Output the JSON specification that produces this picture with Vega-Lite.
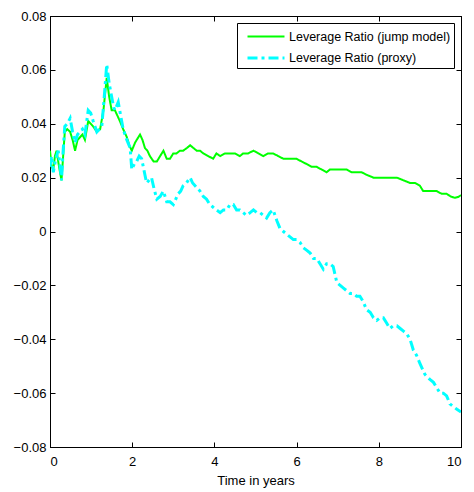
{
  "$schema": "https://vega.github.io/schema/vega-lite/v6.json",
  "width": 411,
  "height": 431,
  "autosize": "none",
  "padding": {"left": 50, "top": 16, "right": 13, "bottom": 45},
  "background": "white",
  "config": {
    "font": "Liberation Sans",
    "view": {"stroke": "black", "strokeWidth": 1},
    "axis": {
      "grid": false,
      "domainColor": "black",
      "tickColor": "black",
      "tickSize": -5,
      "labelColor": "black",
      "labelFont": "Liberation Sans",
      "labelFontSize": 13,
      "titleFont": "Liberation Sans",
      "titleFontSize": 13,
      "titleFontWeight": "normal",
      "titleColor": "black"
    },
    "legend": {
      "labelFont": "Liberation Sans",
      "labelFontSize": 12.5,
      "labelColor": "black",
      "labelLimit": 0
    }
  },
  "data": {
    "values": [
      {"t": 0, "series": "Leverage Ratio (jump model)", "ratio": 0.030},
      {"t": 0.04, "series": "Leverage Ratio (jump model)", "ratio": 0.024},
      {"t": 0.08, "series": "Leverage Ratio (jump model)", "ratio": 0.023},
      {"t": 0.12, "series": "Leverage Ratio (jump model)", "ratio": 0.028},
      {"t": 0.16, "series": "Leverage Ratio (jump model)", "ratio": 0.030},
      {"t": 0.22, "series": "Leverage Ratio (jump model)", "ratio": 0.024},
      {"t": 0.28, "series": "Leverage Ratio (jump model)", "ratio": 0.019},
      {"t": 0.32, "series": "Leverage Ratio (jump model)", "ratio": 0.028},
      {"t": 0.36, "series": "Leverage Ratio (jump model)", "ratio": 0.037},
      {"t": 0.42, "series": "Leverage Ratio (jump model)", "ratio": 0.038},
      {"t": 0.49, "series": "Leverage Ratio (jump model)", "ratio": 0.037},
      {"t": 0.55, "series": "Leverage Ratio (jump model)", "ratio": 0.034},
      {"t": 0.61, "series": "Leverage Ratio (jump model)", "ratio": 0.030},
      {"t": 0.67, "series": "Leverage Ratio (jump model)", "ratio": 0.034},
      {"t": 0.73, "series": "Leverage Ratio (jump model)", "ratio": 0.035},
      {"t": 0.79, "series": "Leverage Ratio (jump model)", "ratio": 0.036},
      {"t": 0.85, "series": "Leverage Ratio (jump model)", "ratio": 0.034},
      {"t": 0.93, "series": "Leverage Ratio (jump model)", "ratio": 0.041},
      {"t": 0.99, "series": "Leverage Ratio (jump model)", "ratio": 0.040},
      {"t": 1.05, "series": "Leverage Ratio (jump model)", "ratio": 0.039},
      {"t": 1.14, "series": "Leverage Ratio (jump model)", "ratio": 0.037},
      {"t": 1.22, "series": "Leverage Ratio (jump model)", "ratio": 0.038},
      {"t": 1.30, "series": "Leverage Ratio (jump model)", "ratio": 0.045},
      {"t": 1.38, "series": "Leverage Ratio (jump model)", "ratio": 0.057},
      {"t": 1.44, "series": "Leverage Ratio (jump model)", "ratio": 0.050},
      {"t": 1.50, "series": "Leverage Ratio (jump model)", "ratio": 0.045},
      {"t": 1.58, "series": "Leverage Ratio (jump model)", "ratio": 0.045},
      {"t": 1.64, "series": "Leverage Ratio (jump model)", "ratio": 0.043},
      {"t": 1.70, "series": "Leverage Ratio (jump model)", "ratio": 0.041},
      {"t": 1.78, "series": "Leverage Ratio (jump model)", "ratio": 0.038},
      {"t": 1.87, "series": "Leverage Ratio (jump model)", "ratio": 0.035},
      {"t": 1.93, "series": "Leverage Ratio (jump model)", "ratio": 0.032},
      {"t": 1.99, "series": "Leverage Ratio (jump model)", "ratio": 0.030},
      {"t": 2.07, "series": "Leverage Ratio (jump model)", "ratio": 0.033},
      {"t": 2.19, "series": "Leverage Ratio (jump model)", "ratio": 0.036},
      {"t": 2.25, "series": "Leverage Ratio (jump model)", "ratio": 0.034},
      {"t": 2.31, "series": "Leverage Ratio (jump model)", "ratio": 0.031},
      {"t": 2.37, "series": "Leverage Ratio (jump model)", "ratio": 0.030},
      {"t": 2.43, "series": "Leverage Ratio (jump model)", "ratio": 0.028},
      {"t": 2.52, "series": "Leverage Ratio (jump model)", "ratio": 0.026},
      {"t": 2.60, "series": "Leverage Ratio (jump model)", "ratio": 0.026},
      {"t": 2.68, "series": "Leverage Ratio (jump model)", "ratio": 0.028},
      {"t": 2.76, "series": "Leverage Ratio (jump model)", "ratio": 0.030},
      {"t": 2.84, "series": "Leverage Ratio (jump model)", "ratio": 0.027},
      {"t": 2.92, "series": "Leverage Ratio (jump model)", "ratio": 0.027},
      {"t": 3.00, "series": "Leverage Ratio (jump model)", "ratio": 0.029},
      {"t": 3.08, "series": "Leverage Ratio (jump model)", "ratio": 0.029},
      {"t": 3.16, "series": "Leverage Ratio (jump model)", "ratio": 0.030},
      {"t": 3.24, "series": "Leverage Ratio (jump model)", "ratio": 0.030},
      {"t": 3.33, "series": "Leverage Ratio (jump model)", "ratio": 0.031},
      {"t": 3.41, "series": "Leverage Ratio (jump model)", "ratio": 0.032},
      {"t": 3.49, "series": "Leverage Ratio (jump model)", "ratio": 0.031},
      {"t": 3.57, "series": "Leverage Ratio (jump model)", "ratio": 0.030},
      {"t": 3.65, "series": "Leverage Ratio (jump model)", "ratio": 0.030},
      {"t": 3.73, "series": "Leverage Ratio (jump model)", "ratio": 0.029},
      {"t": 3.85, "series": "Leverage Ratio (jump model)", "ratio": 0.028},
      {"t": 3.97, "series": "Leverage Ratio (jump model)", "ratio": 0.027},
      {"t": 4.05, "series": "Leverage Ratio (jump model)", "ratio": 0.029},
      {"t": 4.14, "series": "Leverage Ratio (jump model)", "ratio": 0.028},
      {"t": 4.26, "series": "Leverage Ratio (jump model)", "ratio": 0.029},
      {"t": 4.38, "series": "Leverage Ratio (jump model)", "ratio": 0.029},
      {"t": 4.50, "series": "Leverage Ratio (jump model)", "ratio": 0.029},
      {"t": 4.62, "series": "Leverage Ratio (jump model)", "ratio": 0.028},
      {"t": 4.70, "series": "Leverage Ratio (jump model)", "ratio": 0.029},
      {"t": 4.82, "series": "Leverage Ratio (jump model)", "ratio": 0.029},
      {"t": 4.95, "series": "Leverage Ratio (jump model)", "ratio": 0.030},
      {"t": 5.07, "series": "Leverage Ratio (jump model)", "ratio": 0.029},
      {"t": 5.19, "series": "Leverage Ratio (jump model)", "ratio": 0.028},
      {"t": 5.31, "series": "Leverage Ratio (jump model)", "ratio": 0.029},
      {"t": 5.43, "series": "Leverage Ratio (jump model)", "ratio": 0.029},
      {"t": 5.55, "series": "Leverage Ratio (jump model)", "ratio": 0.028},
      {"t": 5.68, "series": "Leverage Ratio (jump model)", "ratio": 0.027},
      {"t": 5.84, "series": "Leverage Ratio (jump model)", "ratio": 0.027},
      {"t": 6.00, "series": "Leverage Ratio (jump model)", "ratio": 0.027},
      {"t": 6.12, "series": "Leverage Ratio (jump model)", "ratio": 0.026},
      {"t": 6.25, "series": "Leverage Ratio (jump model)", "ratio": 0.025},
      {"t": 6.37, "series": "Leverage Ratio (jump model)", "ratio": 0.024},
      {"t": 6.49, "series": "Leverage Ratio (jump model)", "ratio": 0.024},
      {"t": 6.61, "series": "Leverage Ratio (jump model)", "ratio": 0.023},
      {"t": 6.73, "series": "Leverage Ratio (jump model)", "ratio": 0.022},
      {"t": 6.81, "series": "Leverage Ratio (jump model)", "ratio": 0.023},
      {"t": 6.89, "series": "Leverage Ratio (jump model)", "ratio": 0.023},
      {"t": 7.05, "series": "Leverage Ratio (jump model)", "ratio": 0.023},
      {"t": 7.22, "series": "Leverage Ratio (jump model)", "ratio": 0.023},
      {"t": 7.34, "series": "Leverage Ratio (jump model)", "ratio": 0.022},
      {"t": 7.46, "series": "Leverage Ratio (jump model)", "ratio": 0.022},
      {"t": 7.58, "series": "Leverage Ratio (jump model)", "ratio": 0.022},
      {"t": 7.71, "series": "Leverage Ratio (jump model)", "ratio": 0.021},
      {"t": 7.87, "series": "Leverage Ratio (jump model)", "ratio": 0.020},
      {"t": 8.03, "series": "Leverage Ratio (jump model)", "ratio": 0.020},
      {"t": 8.19, "series": "Leverage Ratio (jump model)", "ratio": 0.020},
      {"t": 8.31, "series": "Leverage Ratio (jump model)", "ratio": 0.020},
      {"t": 8.44, "series": "Leverage Ratio (jump model)", "ratio": 0.020},
      {"t": 8.60, "series": "Leverage Ratio (jump model)", "ratio": 0.019},
      {"t": 8.76, "series": "Leverage Ratio (jump model)", "ratio": 0.018},
      {"t": 8.88, "series": "Leverage Ratio (jump model)", "ratio": 0.018},
      {"t": 9.00, "series": "Leverage Ratio (jump model)", "ratio": 0.017},
      {"t": 9.08, "series": "Leverage Ratio (jump model)", "ratio": 0.015},
      {"t": 9.25, "series": "Leverage Ratio (jump model)", "ratio": 0.015},
      {"t": 9.41, "series": "Leverage Ratio (jump model)", "ratio": 0.015},
      {"t": 9.53, "series": "Leverage Ratio (jump model)", "ratio": 0.014},
      {"t": 9.65, "series": "Leverage Ratio (jump model)", "ratio": 0.014},
      {"t": 9.75, "series": "Leverage Ratio (jump model)", "ratio": 0.013},
      {"t": 9.85, "series": "Leverage Ratio (jump model)", "ratio": 0.0125},
      {"t": 9.93, "series": "Leverage Ratio (jump model)", "ratio": 0.0128},
      {"t": 10.0, "series": "Leverage Ratio (jump model)", "ratio": 0.0135},

      {"t": 0, "series": "Leverage Ratio (proxy)", "ratio": 0.024},
      {"t": 0.04, "series": "Leverage Ratio (proxy)", "ratio": 0.028},
      {"t": 0.08, "series": "Leverage Ratio (proxy)", "ratio": 0.022},
      {"t": 0.14, "series": "Leverage Ratio (proxy)", "ratio": 0.027},
      {"t": 0.20, "series": "Leverage Ratio (proxy)", "ratio": 0.030},
      {"t": 0.24, "series": "Leverage Ratio (proxy)", "ratio": 0.025},
      {"t": 0.28, "series": "Leverage Ratio (proxy)", "ratio": 0.019},
      {"t": 0.32, "series": "Leverage Ratio (proxy)", "ratio": 0.030},
      {"t": 0.36, "series": "Leverage Ratio (proxy)", "ratio": 0.039},
      {"t": 0.42, "series": "Leverage Ratio (proxy)", "ratio": 0.040},
      {"t": 0.49, "series": "Leverage Ratio (proxy)", "ratio": 0.042},
      {"t": 0.55, "series": "Leverage Ratio (proxy)", "ratio": 0.037},
      {"t": 0.61, "series": "Leverage Ratio (proxy)", "ratio": 0.033},
      {"t": 0.67, "series": "Leverage Ratio (proxy)", "ratio": 0.036},
      {"t": 0.73, "series": "Leverage Ratio (proxy)", "ratio": 0.037},
      {"t": 0.79, "series": "Leverage Ratio (proxy)", "ratio": 0.038},
      {"t": 0.85, "series": "Leverage Ratio (proxy)", "ratio": 0.036},
      {"t": 0.93, "series": "Leverage Ratio (proxy)", "ratio": 0.045},
      {"t": 0.99, "series": "Leverage Ratio (proxy)", "ratio": 0.044},
      {"t": 1.05, "series": "Leverage Ratio (proxy)", "ratio": 0.041},
      {"t": 1.14, "series": "Leverage Ratio (proxy)", "ratio": 0.037},
      {"t": 1.20, "series": "Leverage Ratio (proxy)", "ratio": 0.038},
      {"t": 1.26, "series": "Leverage Ratio (proxy)", "ratio": 0.039},
      {"t": 1.32, "series": "Leverage Ratio (proxy)", "ratio": 0.050},
      {"t": 1.38, "series": "Leverage Ratio (proxy)", "ratio": 0.062},
      {"t": 1.44, "series": "Leverage Ratio (proxy)", "ratio": 0.055},
      {"t": 1.50, "series": "Leverage Ratio (proxy)", "ratio": 0.050},
      {"t": 1.55, "series": "Leverage Ratio (proxy)", "ratio": 0.046},
      {"t": 1.58, "series": "Leverage Ratio (proxy)", "ratio": 0.045},
      {"t": 1.66, "series": "Leverage Ratio (proxy)", "ratio": 0.048},
      {"t": 1.72, "series": "Leverage Ratio (proxy)", "ratio": 0.043},
      {"t": 1.78, "series": "Leverage Ratio (proxy)", "ratio": 0.038},
      {"t": 1.87, "series": "Leverage Ratio (proxy)", "ratio": 0.034},
      {"t": 1.95, "series": "Leverage Ratio (proxy)", "ratio": 0.031},
      {"t": 1.99, "series": "Leverage Ratio (proxy)", "ratio": 0.023},
      {"t": 2.05, "series": "Leverage Ratio (proxy)", "ratio": 0.025},
      {"t": 2.11, "series": "Leverage Ratio (proxy)", "ratio": 0.026},
      {"t": 2.17, "series": "Leverage Ratio (proxy)", "ratio": 0.028},
      {"t": 2.23, "series": "Leverage Ratio (proxy)", "ratio": 0.027},
      {"t": 2.27, "series": "Leverage Ratio (proxy)", "ratio": 0.024},
      {"t": 2.35, "series": "Leverage Ratio (proxy)", "ratio": 0.018},
      {"t": 2.41, "series": "Leverage Ratio (proxy)", "ratio": 0.019},
      {"t": 2.47, "series": "Leverage Ratio (proxy)", "ratio": 0.020},
      {"t": 2.53, "series": "Leverage Ratio (proxy)", "ratio": 0.016},
      {"t": 2.60, "series": "Leverage Ratio (proxy)", "ratio": 0.012},
      {"t": 2.68, "series": "Leverage Ratio (proxy)", "ratio": 0.013},
      {"t": 2.76, "series": "Leverage Ratio (proxy)", "ratio": 0.015},
      {"t": 2.84, "series": "Leverage Ratio (proxy)", "ratio": 0.011},
      {"t": 2.92, "series": "Leverage Ratio (proxy)", "ratio": 0.011},
      {"t": 3.00, "series": "Leverage Ratio (proxy)", "ratio": 0.010},
      {"t": 3.06, "series": "Leverage Ratio (proxy)", "ratio": 0.012},
      {"t": 3.12, "series": "Leverage Ratio (proxy)", "ratio": 0.014},
      {"t": 3.18, "series": "Leverage Ratio (proxy)", "ratio": 0.015},
      {"t": 3.24, "series": "Leverage Ratio (proxy)", "ratio": 0.017},
      {"t": 3.32, "series": "Leverage Ratio (proxy)", "ratio": 0.018},
      {"t": 3.41, "series": "Leverage Ratio (proxy)", "ratio": 0.020},
      {"t": 3.47, "series": "Leverage Ratio (proxy)", "ratio": 0.018},
      {"t": 3.53, "series": "Leverage Ratio (proxy)", "ratio": 0.017},
      {"t": 3.59, "series": "Leverage Ratio (proxy)", "ratio": 0.016},
      {"t": 3.65, "series": "Leverage Ratio (proxy)", "ratio": 0.015},
      {"t": 3.73, "series": "Leverage Ratio (proxy)", "ratio": 0.013},
      {"t": 3.81, "series": "Leverage Ratio (proxy)", "ratio": 0.012},
      {"t": 3.89, "series": "Leverage Ratio (proxy)", "ratio": 0.010},
      {"t": 3.97, "series": "Leverage Ratio (proxy)", "ratio": 0.009},
      {"t": 4.05, "series": "Leverage Ratio (proxy)", "ratio": 0.008},
      {"t": 4.14, "series": "Leverage Ratio (proxy)", "ratio": 0.007},
      {"t": 4.22, "series": "Leverage Ratio (proxy)", "ratio": 0.008},
      {"t": 4.30, "series": "Leverage Ratio (proxy)", "ratio": 0.008},
      {"t": 4.38, "series": "Leverage Ratio (proxy)", "ratio": 0.010},
      {"t": 4.46, "series": "Leverage Ratio (proxy)", "ratio": 0.010},
      {"t": 4.54, "series": "Leverage Ratio (proxy)", "ratio": 0.008},
      {"t": 4.62, "series": "Leverage Ratio (proxy)", "ratio": 0.008},
      {"t": 4.70, "series": "Leverage Ratio (proxy)", "ratio": 0.007},
      {"t": 4.78, "series": "Leverage Ratio (proxy)", "ratio": 0.006},
      {"t": 4.87, "series": "Leverage Ratio (proxy)", "ratio": 0.007},
      {"t": 4.95, "series": "Leverage Ratio (proxy)", "ratio": 0.008},
      {"t": 5.03, "series": "Leverage Ratio (proxy)", "ratio": 0.007},
      {"t": 5.11, "series": "Leverage Ratio (proxy)", "ratio": 0.007},
      {"t": 5.19, "series": "Leverage Ratio (proxy)", "ratio": 0.006},
      {"t": 5.27, "series": "Leverage Ratio (proxy)", "ratio": 0.005},
      {"t": 5.35, "series": "Leverage Ratio (proxy)", "ratio": 0.007},
      {"t": 5.43, "series": "Leverage Ratio (proxy)", "ratio": 0.008},
      {"t": 5.52, "series": "Leverage Ratio (proxy)", "ratio": 0.004},
      {"t": 5.60, "series": "Leverage Ratio (proxy)", "ratio": 0.001},
      {"t": 5.68, "series": "Leverage Ratio (proxy)", "ratio": 0.000},
      {"t": 5.76, "series": "Leverage Ratio (proxy)", "ratio": -0.001},
      {"t": 5.84, "series": "Leverage Ratio (proxy)", "ratio": -0.002},
      {"t": 5.92, "series": "Leverage Ratio (proxy)", "ratio": -0.003},
      {"t": 6.00, "series": "Leverage Ratio (proxy)", "ratio": -0.003},
      {"t": 6.08, "series": "Leverage Ratio (proxy)", "ratio": -0.004},
      {"t": 6.16, "series": "Leverage Ratio (proxy)", "ratio": -0.006},
      {"t": 6.25, "series": "Leverage Ratio (proxy)", "ratio": -0.007},
      {"t": 6.33, "series": "Leverage Ratio (proxy)", "ratio": -0.008},
      {"t": 6.41, "series": "Leverage Ratio (proxy)", "ratio": -0.010},
      {"t": 6.49, "series": "Leverage Ratio (proxy)", "ratio": -0.010},
      {"t": 6.57, "series": "Leverage Ratio (proxy)", "ratio": -0.012},
      {"t": 6.65, "series": "Leverage Ratio (proxy)", "ratio": -0.014},
      {"t": 6.73, "series": "Leverage Ratio (proxy)", "ratio": -0.012},
      {"t": 6.81, "series": "Leverage Ratio (proxy)", "ratio": -0.012},
      {"t": 6.89, "series": "Leverage Ratio (proxy)", "ratio": -0.013},
      {"t": 6.98, "series": "Leverage Ratio (proxy)", "ratio": -0.019},
      {"t": 7.06, "series": "Leverage Ratio (proxy)", "ratio": -0.020},
      {"t": 7.14, "series": "Leverage Ratio (proxy)", "ratio": -0.021},
      {"t": 7.22, "series": "Leverage Ratio (proxy)", "ratio": -0.022},
      {"t": 7.30, "series": "Leverage Ratio (proxy)", "ratio": -0.023},
      {"t": 7.38, "series": "Leverage Ratio (proxy)", "ratio": -0.023},
      {"t": 7.46, "series": "Leverage Ratio (proxy)", "ratio": -0.024},
      {"t": 7.54, "series": "Leverage Ratio (proxy)", "ratio": -0.024},
      {"t": 7.62, "series": "Leverage Ratio (proxy)", "ratio": -0.026},
      {"t": 7.70, "series": "Leverage Ratio (proxy)", "ratio": -0.029},
      {"t": 7.79, "series": "Leverage Ratio (proxy)", "ratio": -0.030},
      {"t": 7.87, "series": "Leverage Ratio (proxy)", "ratio": -0.032},
      {"t": 7.95, "series": "Leverage Ratio (proxy)", "ratio": -0.033},
      {"t": 8.03, "series": "Leverage Ratio (proxy)", "ratio": -0.032},
      {"t": 8.11, "series": "Leverage Ratio (proxy)", "ratio": -0.032},
      {"t": 8.19, "series": "Leverage Ratio (proxy)", "ratio": -0.034},
      {"t": 8.27, "series": "Leverage Ratio (proxy)", "ratio": -0.036},
      {"t": 8.35, "series": "Leverage Ratio (proxy)", "ratio": -0.035},
      {"t": 8.44, "series": "Leverage Ratio (proxy)", "ratio": -0.035},
      {"t": 8.52, "series": "Leverage Ratio (proxy)", "ratio": -0.036},
      {"t": 8.60, "series": "Leverage Ratio (proxy)", "ratio": -0.037},
      {"t": 8.68, "series": "Leverage Ratio (proxy)", "ratio": -0.038},
      {"t": 8.76, "series": "Leverage Ratio (proxy)", "ratio": -0.040},
      {"t": 8.84, "series": "Leverage Ratio (proxy)", "ratio": -0.044},
      {"t": 8.92, "series": "Leverage Ratio (proxy)", "ratio": -0.046},
      {"t": 9.00, "series": "Leverage Ratio (proxy)", "ratio": -0.049},
      {"t": 9.06, "series": "Leverage Ratio (proxy)", "ratio": -0.051},
      {"t": 9.12, "series": "Leverage Ratio (proxy)", "ratio": -0.053},
      {"t": 9.18, "series": "Leverage Ratio (proxy)", "ratio": -0.054},
      {"t": 9.25, "series": "Leverage Ratio (proxy)", "ratio": -0.055},
      {"t": 9.33, "series": "Leverage Ratio (proxy)", "ratio": -0.056},
      {"t": 9.41, "series": "Leverage Ratio (proxy)", "ratio": -0.058},
      {"t": 9.49, "series": "Leverage Ratio (proxy)", "ratio": -0.060},
      {"t": 9.57, "series": "Leverage Ratio (proxy)", "ratio": -0.060},
      {"t": 9.65, "series": "Leverage Ratio (proxy)", "ratio": -0.061},
      {"t": 9.73, "series": "Leverage Ratio (proxy)", "ratio": -0.064},
      {"t": 9.81, "series": "Leverage Ratio (proxy)", "ratio": -0.065},
      {"t": 9.90, "series": "Leverage Ratio (proxy)", "ratio": -0.066},
      {"t": 10.0, "series": "Leverage Ratio (proxy)", "ratio": -0.067}
    ]
  },
  "layer": [
    {
      "mark": {"type": "line", "clip": true},
      "encoding": {
        "x": {
          "field": "t", "type": "quantitative",
          "scale": {"domain": [0, 10], "nice": false, "zero": false},
          "axis": {"title": "Time in years", "values": [0, 2, 4, 6, 8, 10], "labelPadding": 13, "titlePadding": 6}
        },
        "y": {
          "field": "ratio", "type": "quantitative",
          "scale": {"domain": [-0.08, 0.08], "nice": false},
          "axis": {
            "title": null,
            "values": [-0.08, -0.06, -0.04, -0.02, 0, 0.02, 0.04, 0.06, 0.08],
            "labelExpr": "datum.value == 0 ? '0' : format(datum.value, '.2f')",
            "labelPadding": 9
          }
        },
        "color": {
          "field": "series", "type": "nominal",
          "scale": {"domain": ["Leverage Ratio (jump model)", "Leverage Ratio (proxy)"], "range": ["#00ff00", "#00ffff"]},
          "legend": {
            "title": null,
            "orient": "top-right",
            "offset": 7,
            "padding": 3,
            "strokeColor": "black",
            "fillColor": "white",
            "cornerRadius": 0,
            "symbolType": "M-2,0H2",
            "symbolSize": 342,
            "symbolStrokeWidth": 3,
            "symbolOffset": 15,
            "rowPadding": 4,
            "labelOffset": 12
          }
        },
        "strokeDash": {
          "field": "series", "type": "nominal",
          "scale": {"domain": ["Leverage Ratio (jump model)", "Leverage Ratio (proxy)"], "range": [[1, 0], [10, 4, 3, 4]]},
          "legend": null
        },
        "strokeWidth": {
          "field": "series", "type": "nominal",
          "scale": {"domain": ["Leverage Ratio (jump model)", "Leverage Ratio (proxy)"], "range": [2, 3]},
          "legend": null
        }
      }
    },
    {
      "mark": {"type": "line", "opacity": 0},
      "encoding": {
        "x": {
          "field": "t", "type": "quantitative",
          "axis": {"orient": "top", "labels": false, "title": null, "values": [0, 2, 4, 6, 8, 10]}
        },
        "y": {
          "field": "ratio", "type": "quantitative",
          "axis": {"orient": "right", "labels": false, "title": null, "values": [-0.08, -0.06, -0.04, -0.02, 0, 0.02, 0.04, 0.06, 0.08]}
        }
      }
    }
  ],
  "resolve": {"axis": {"x": "independent", "y": "independent"}}
}
